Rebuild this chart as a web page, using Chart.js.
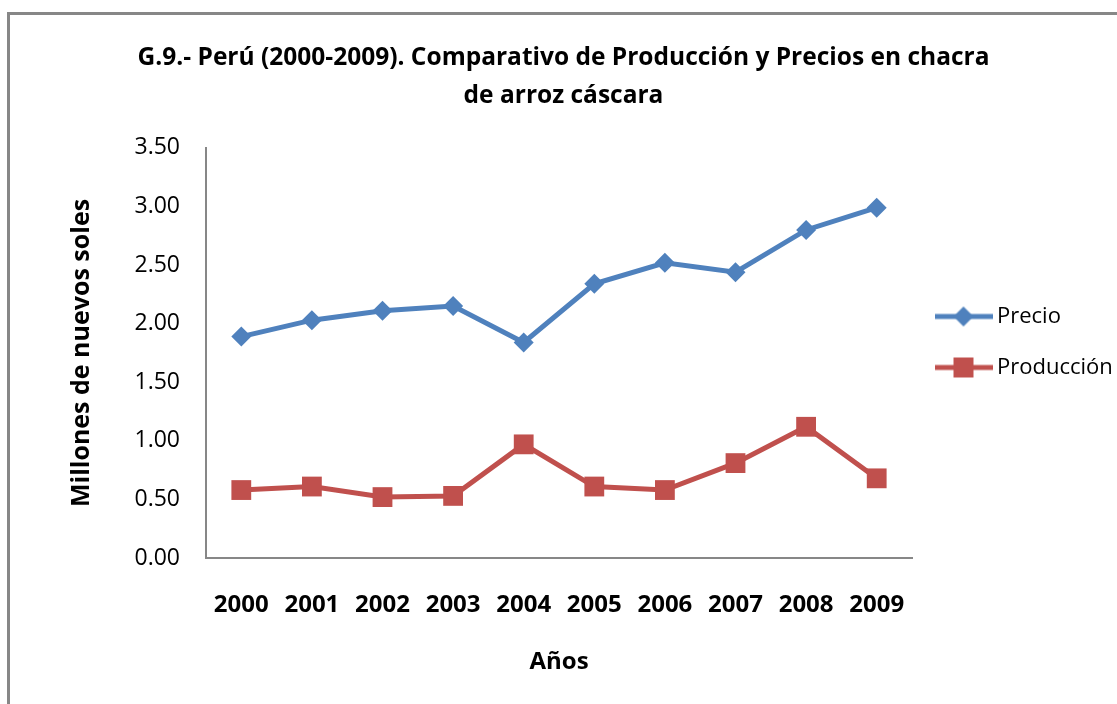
<!DOCTYPE html>
<html>
<head>
<meta charset="utf-8">
<script src="https://cdn.jsdelivr.net/npm/chart.js@4"></script>
<style>
html, body { margin: 0; padding: 0; background: #fff; overflow: hidden; }
#wrap { position: relative; width: 1117px; height: 704px; }
#frame { position: absolute; left: 7px; top: 12px; width: 1200px; height: 800px; border: 3px solid #878787; box-sizing: border-box; }
canvas { position: absolute; left: 0; top: 0; }
</style>
</head>
<body>
<div id="wrap">
  <div id="frame"></div>
  <canvas id="myChart" width="1117" height="704"></canvas>
</div>
<script>
// data
let years = ['2000', '2001', '2002', '2003', '2004', '2005', '2006', '2007', '2008', '2009'];
let precio = [1.89, 2.03, 2.11, 2.15, 1.84, 2.34, 2.52, 2.44, 2.80, 2.99];
let produccion = [0.58, 0.61, 0.52, 0.53, 0.97, 0.61, 0.58, 0.81, 1.12, 0.68];
let yTicks = [0, 0.5, 1, 1.5, 2, 2.5, 3, 3.5];

let blue = '#4F81BD';
let red = '#C0504D';
let font = 'Open Sans';

// little legend pictures: line with the marker in the middle
function legendIcon(color, shape){
    let c = document.createElement('canvas');
    c.width = 58;
    c.height = 24;
    let g = c.getContext('2d');
    g.strokeStyle = color;
    g.lineWidth = 5;
    g.beginPath();
    g.moveTo(0, 12);
    g.lineTo(58, 12);
    g.stroke();
    g.fillStyle = color;
    if(shape === 'diamond'){
        g.beginPath();
        g.moveTo(29, 2);
        g.lineTo(39, 12);
        g.lineTo(29, 22);
        g.lineTo(19, 12);
        g.closePath();
        g.fill();
    }else{
        g.fillRect(19, 2, 20, 20);
    }
    return c;
}
let icons = [legendIcon(blue, 'diamond'), legendIcon(red, 'square')];

// move the legend up a bit, as in the original
let legendShift = {
    id: 'legendShift',
    afterLayout(chart){
        chart.legend.top -= 11;
        chart.legend.bottom -= 11;
    }
};

let ctx = document.getElementById('myChart').getContext('2d');
let myChart = new Chart(ctx, {
    type: 'line',
    data: {
        labels: years,
        datasets: [
            {
                label: 'Precio',
                data: precio,
                borderColor: blue,
                backgroundColor: blue,
                borderWidth: 5,
                pointStyle: 'rectRot',
                pointRadius: 10,
                pointBorderWidth: 0,
                tension: 0
            },
            {
                label: 'Producción',
                data: produccion,
                borderColor: red,
                backgroundColor: red,
                borderWidth: 5,
                pointStyle: 'rect',
                pointRadius: 14,
                pointBorderWidth: 0,
                tension: 0
            }
        ]
    },
    options: {
        responsive: false,
        animation: false,
        layout: { padding: { left: 10, right: 0, top: 0, bottom: 0 } },
        plugins: {
            title: {
                display: true,
                text: ['G.9.- Perú (2000-2009). Comparativo de Producción y Precios en chacra', 'de arroz cáscara'],
                color: '#000',
                font: { family: font, size: 24.5, weight: 'bold', lineHeight: 1.55 },
                padding: { top: 39, bottom: 33 }
            },
            legend: {
                position: 'right',
                fullSize: false,
                maxWidth: 205,
                labels: {
                    usePointStyle: true,
                    pointStyleWidth: 45,
                    padding: 29,
                    color: '#000',
                    font: { family: font, size: 22 },
                    generateLabels(chart){
                        let items = Chart.defaults.plugins.legend.labels.generateLabels(chart);
                        items.forEach((item, i) => { item.pointStyle = icons[i]; });
                        return items;
                    }
                }
            },
            tooltip: { enabled: false }
        },
        scales: {
            x: {
                offset: true,
                grid: { display: false, drawTicks: false },
                border: { color: '#878787', width: 2 },
                ticks: { color: '#000', padding: 33, font: { family: font, size: 24, weight: 'bold' } },
                title: {
                    display: true,
                    text: 'Años',
                    color: '#000',
                    font: { family: font, size: 24, weight: 'bold' },
                    padding: { top: 0, bottom: 27 }
                },
                afterFit(scale){ scale.height = 704 - 558; }
            },
            y: {
                min: 0,
                max: 3.5,
                afterBuildTicks(scale){ scale.ticks = yTicks.map(v => ({ value: v })); },
                grid: { display: false, drawTicks: false },
                border: { color: '#878787', width: 2 },
                ticks: {
                    color: '#000',
                    padding: 26,
                    font: { family: font, size: 23 },
                    callback: (v) => Number(v).toFixed(2)
                },
                title: {
                    display: true,
                    text: 'Millones de nuevos soles',
                    color: '#000',
                    font: { family: font, size: 25, weight: 'bold' },
                    padding: { top: 57, bottom: 0 }
                },
                afterFit(scale){ scale.width = 206 - 10; }
            }
        }
    },
    plugins: [legendShift]
});
</script>
</body>
</html>
